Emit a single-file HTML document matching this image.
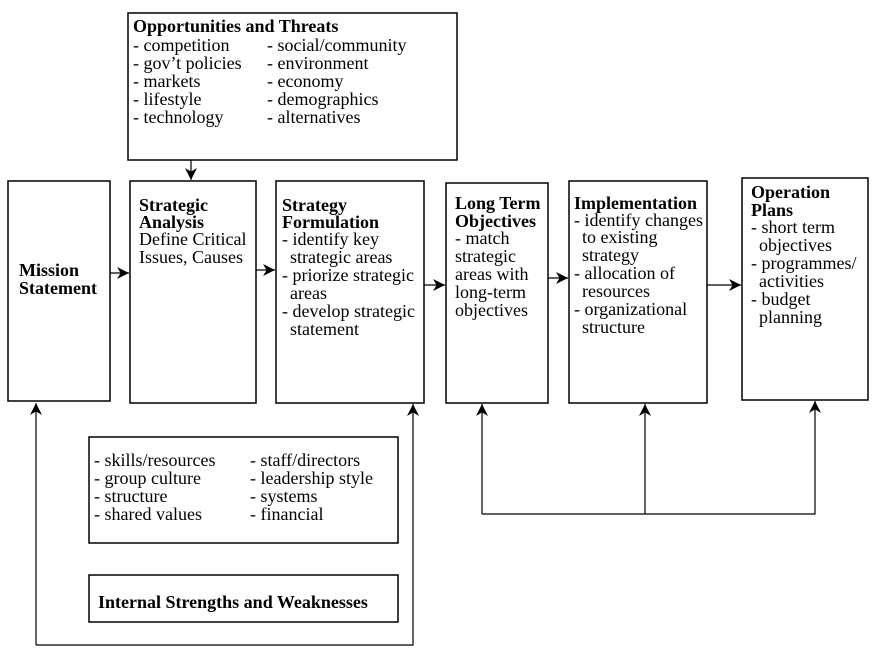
<!DOCTYPE html>
<html><head><meta charset="utf-8"><style>
html,body{margin:0;padding:0;background:#fff;}
svg{display:block;font-family:"Liberation Serif",serif;font-size:18px;}
.b{font-weight:bold;font-size:18px;}
</style></head><body>
<svg width="878" height="662" viewBox="0 0 878 662" xmlns="http://www.w3.org/2000/svg">
<defs><marker id="a" viewBox="0 0 10 10" refX="10" refY="5" markerWidth="14" markerHeight="12" markerUnits="userSpaceOnUse" orient="auto"><path d="M0,0 L10,5 L0,10 L3,5 z" fill="#000"/></marker></defs>
<g fill="none" stroke="#000" stroke-width="1.5">
<rect x="128" y="13" width="329" height="147"/>
<rect x="8" y="181" width="102" height="220"/>
<rect x="130" y="181" width="126" height="222"/>
<rect x="276" y="181" width="148" height="222"/>
<rect x="446" y="183" width="102" height="220"/>
<rect x="569" y="181" width="138" height="222"/>
<rect x="742" y="178" width="126" height="222"/>
<rect x="89" y="437" width="309" height="106"/>
<rect x="89" y="575" width="309" height="47"/>
</g>
<g fill="none" stroke="#000" stroke-width="1.2" marker-end="url(#a)">
<line x1="191" y1="160" x2="191" y2="180"/>
<line x1="110" y1="273" x2="129" y2="273"/>
<line x1="256" y1="270" x2="275" y2="270"/>
<line x1="424" y1="285" x2="445" y2="285"/>
<line x1="548" y1="278" x2="568" y2="278"/>
<line x1="707" y1="285" x2="741" y2="285"/>
<polyline points="36,645 36,403"/>
<polyline points="36,645 413,645 413,404"/>
<polyline points="482,514 482,404"/>
<polyline points="482,514 645,514 645,404"/>
<polyline points="645,514 815,514 815,401"/>
</g>
<g fill="#000">
<text x="133" y="32" class="b">Opportunities and Threats</text>
<text x="133" y="51">- competition</text><text x="267" y="51">- social/community</text>
<text x="133" y="69">- gov’t policies</text><text x="267" y="69">- environment</text>
<text x="133" y="87">- markets</text><text x="267" y="87">- economy</text>
<text x="133" y="105">- lifestyle</text><text x="267" y="105">- demographics</text>
<text x="133" y="123">- technology</text><text x="267" y="123">- alternatives</text>

<text x="19" y="276" class="b">Mission</text>
<text x="19" y="294" class="b">Statement</text>

<text x="139" y="211" class="b">Strategic</text>
<text x="139" y="228" class="b">Analysis</text>
<text x="139" y="245">Define Critical</text>
<text x="139" y="263">Issues, Causes</text>

<text x="282" y="211" class="b">Strategy</text>
<text x="282" y="228" class="b">Formulation</text>
<text x="282" y="245">- identify key</text>
<text x="290" y="263">strategic areas</text>
<text x="282" y="281">- priorize strategic</text>
<text x="290" y="299">areas</text>
<text x="282" y="317">- develop strategic</text>
<text x="290" y="335">statement</text>

<text x="455" y="209" class="b">Long Term</text>
<text x="455" y="227" class="b">Objectives</text>
<text x="455" y="244">- match</text>
<text x="455" y="262">strategic</text>
<text x="455" y="280">areas with</text>
<text x="455" y="298">long-term</text>
<text x="455" y="316">objectives</text>

<text x="574" y="209" class="b">Implementation</text>
<text x="574" y="226">- identify changes</text>
<text x="582" y="243">to existing</text>
<text x="582" y="261">strategy</text>
<text x="574" y="279">- allocation of</text>
<text x="582" y="297">resources</text>
<text x="574" y="315">- organizational</text>
<text x="582" y="333">structure</text>

<text x="751" y="198" class="b">Operation</text>
<text x="751" y="216" class="b">Plans</text>
<text x="751" y="233">- short term</text>
<text x="759" y="251">objectives</text>
<text x="751" y="269">- programmes/</text>
<text x="759" y="287">activities</text>
<text x="751" y="305">- budget</text>
<text x="759" y="323">planning</text>

<text x="94" y="466">- skills/resources</text><text x="250" y="466">- staff/directors</text>
<text x="94" y="484">- group culture</text><text x="250" y="484">- leadership style</text>
<text x="94" y="502">- structure</text><text x="250" y="502">- systems</text>
<text x="94" y="520">- shared values</text><text x="250" y="520">- financial</text>

<text x="98" y="608" class="b">Internal Strengths and Weaknesses</text>
</g>
</svg>
</body></html>
